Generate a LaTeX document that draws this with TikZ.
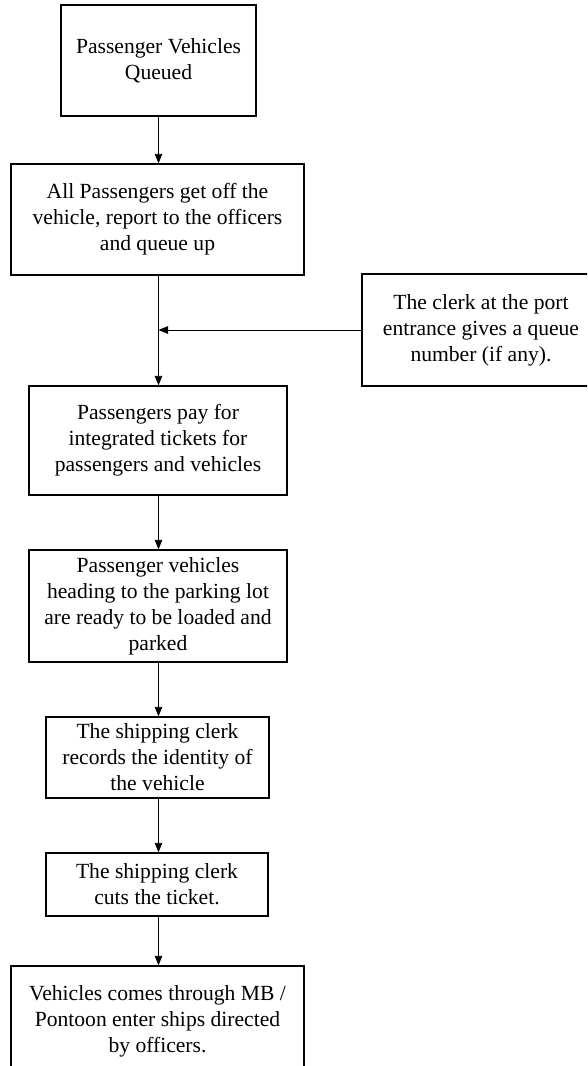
\documentclass[tikz,border=0pt]{standalone}
\usepackage{fontspec}
\setmainfont{Liberation Serif}
\usetikzlibrary{arrows.meta}
\begin{document}
\begin{tikzpicture}[x=1pt,y=-1pt,
  box/.style={draw=black, line width=1.3pt, rectangle, align=center, inner sep=0pt,
    font=\fontsize{21.6}{26}\selectfont},
  conn/.style={draw=black, line width=0.8pt, -{Triangle[width=7.5pt,length=9.5pt]}},
  plain/.style={draw=black, line width=0.8pt}]
\clip (0,0) rectangle (587,1066);
\fill[white] (0,0) rectangle (587,1066);
\node[box, minimum width=195pt, minimum height=111pt] (b1) at (158.5,60.5) {Passenger Vehicles\\Queued};
\node[box, minimum width=293pt, minimum height=111pt] (b2) at (157.5,219.5) {All Passengers get off the\\vehicle, report to the officers\\and queue up};
\node[box, minimum width=238pt, minimum height=112pt] (rb) at (481,330) {The clerk at the port\\entrance gives a queue\\number (if any).};
\node[box, minimum width=258pt, minimum height=109pt] (b3) at (158,440.5) {Passengers pay for\\integrated tickets for\\passengers and vehicles};
\node[box, minimum width=258pt, minimum height=112pt] (b4) at (158,606) {Passenger vehicles\\heading to the parking lot\\are ready to be loaded and\\parked};
\node[box, minimum width=223pt, minimum height=81pt] (b5) at (157.5,757.5) {The shipping clerk\\records the identity of\\the vehicle};
\node[box, minimum width=222pt, minimum height=63pt] (b6) at (157,884.5) {The shipping clerk\\cuts the ticket.};
\node[box, minimum width=293pt, minimum height=111pt] (b7) at (157.5,1021.5) {Vehicles comes through MB /\\Pontoon enter ships directed\\by officers.};
\coordinate (x) at (158.5,0);
\coordinate (j) at (x |- rb.west);
\draw[conn] (x |- b1.south) -- (x |- b2.north);
\draw[conn] (x |- b2.south) -- (x |- b3.north);
\draw[conn] (rb.west) -- (j);
\draw[conn] (x |- b3.south) -- (x |- b4.north);
\draw[conn] (x |- b4.south) -- (x |- b5.north);
\draw[conn] (x |- b5.south) -- (x |- b6.north);
\draw[conn] (x |- b6.south) -- (x |- b7.north);
\end{tikzpicture}
\end{document}
